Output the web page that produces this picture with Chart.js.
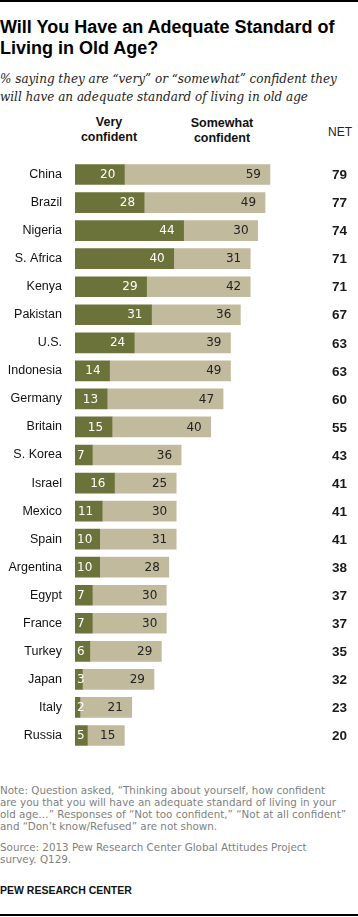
<!DOCTYPE html>
<html>
<head>
<meta charset="utf-8">
<script src="https://cdn.jsdelivr.net/npm/chart.js@4"></script>
<style>
  html, body { margin: 0; padding: 0; background: #fff; }
  body { width: 358px; height: 917px; position: relative; overflow: hidden; }
  .abs { position: absolute; white-space: nowrap; }
  .rule { position: absolute; left: 0; width: 358px; height: 2px; background: #000; }
  #title { left: 0; top: 16.6px; font: bold 18px "Liberation Sans", Arial, sans-serif; line-height: 21px; color: #000; }
  #sub { left: 0; top: 70px; font: italic 12px "DejaVu Serif", serif; line-height: 18px; color: #222; }
  .hdr { font: bold 12.5px "Liberation Sans", Arial, sans-serif; line-height: 15px; color: #111; text-align: center; top: 115px; }
  #net { left: 320px; width: 40px; top: 124.5px; font: 12px "Liberation Sans", Arial, sans-serif; line-height: 14px; color: #222; text-align: center; }
  .note { left: 0; font: 10.35px "DejaVu Sans", Verdana, sans-serif; line-height: 12px; color: #7f7f7f; }
  #pew { left: 0; top: 884.4px; font: bold 10.5px "Liberation Sans", Arial, sans-serif; line-height: 12px; color: #111; }
  #chartBox { position: absolute; left: 0; top: 140px; width: 358px; height: 630px; }
</style>
</head>
<body>
<div class="rule" style="top:0"></div>
<div id="title" class="abs">Will You Have an Adequate Standard of<br>Living in Old Age?</div>
<div id="sub" class="abs">% saying they are “very” or “somewhat” confident they<br>will have an adequate standard of living in old age</div>
<div class="abs hdr" style="left:69px;width:80px;">Very<br>confident</div>
<div class="abs hdr" style="left:172px;width:100px;top:116px;">Somewhat<br>confident</div>
<div id="net" class="abs">NET</div>
<div id="chartBox"><canvas id="c"></canvas></div>
<div class="abs note" style="top:783.7px;">Note: Question asked, “Thinking about yourself, how confident<br>are you that you will have an adequate standard of living in your<br>old age…” Responses of “Not too confident,” “Not at all confident”<br>and “Don’t know/Refused” are not shown.</div>
<div class="abs note" style="top:841.1px;">Source: 2013 Pew Research Center Global Attitudes Project<br>survey. Q129.</div>
<div id="pew" class="abs">PEW RESEARCH CENTER</div>
<div class="rule" style="top:914px"></div>

<script>
const countries = ["China","Brazil","Nigeria","S. Africa","Kenya","Pakistan","U.S.","Indonesia","Germany","Britain","S. Korea","Israel","Mexico","Spain","Argentina","Egypt","France","Turkey","Japan","Italy","Russia"];
const veryConfident = [20,28,44,40,29,31,24,14,13,15,7,16,11,10,10,7,7,6,3,2,5];
const somewhatConfident = [59,49,30,31,42,36,39,49,47,40,36,25,30,31,28,30,30,29,29,21,15];
const netValues = [79,77,74,71,71,67,63,63,60,55,43,41,41,41,38,37,37,35,32,23,20];

const DARK = "#6b733a";
const LIGHT = "#c2ba9d";

const labelPlugin = {
  id: "barLabels",
  afterDatasetsDraw(chart) {
    const ctx = chart.ctx;
    ctx.save();
    ctx.textBaseline = "middle";
    ctx.textAlign = "left";
    const m0 = chart.getDatasetMeta(0), m1 = chart.getDatasetMeta(1);
    ctx.font = '12px "DejaVu Sans", Verdana, sans-serif';
    m0.data.forEach((el, i) => {
      const t = String(veryConfident[i]);
      const w = ctx.measureText(t).width;
      const left = Math.min(el.base, el.x), right = Math.max(el.base, el.x);
      const x = Math.max(left + 2, right - 9 - w);
      ctx.fillStyle = "#fff";
      ctx.fillText(t, x, el.y + 0.5);
    });
    m1.data.forEach((el, i) => {
      const t = String(somewhatConfident[i]);
      const w = ctx.measureText(t).width;
      const right = Math.max(el.base, el.x);
      ctx.fillStyle = "#222";
      ctx.fillText(t, right - 9 - w, el.y + 0.5);
    });
    ctx.font = 'bold 13.5px "Liberation Sans", Arial, sans-serif';
    ctx.textAlign = "center";
    ctx.fillStyle = "#1a1a1a";
    m0.data.forEach((el, i) => {
      ctx.fillText(String(netValues[i]), 339.5, el.y + 1);
    });
    ctx.restore();
  }
};

new Chart(document.getElementById("c"), {
  type: "bar",
  data: {
    labels: countries,
    datasets: [
      { label: "Very confident", data: veryConfident, backgroundColor: DARK, barThickness: 20, borderWidth: 0 },
      { label: "Somewhat confident", data: somewhatConfident, backgroundColor: LIGHT, barThickness: 20, borderWidth: 0 }
    ]
  },
  options: {
    indexAxis: "y",
    responsive: true,
    maintainAspectRatio: false,
    devicePixelRatio: 1,
    animation: false,
    layout: { padding: { top: 4.5, bottom: 4.5, left: 0, right: 36.2 } },
    plugins: { legend: { display: false }, tooltip: { enabled: false } },
    scales: {
      x: { stacked: true, min: 0, max: 100, display: false },
      y: {
        stacked: true,
        grid: { display: false, drawTicks: false },
        border: { display: false },
        ticks: { padding: 13, color: "#111", font: { family: '"Liberation Sans", Arial, sans-serif', size: 12.5 } },
        afterFit(scale) { scale.width = 75; }
      }
    }
  },
  plugins: [labelPlugin]
});
</script>
</body>
</html>
